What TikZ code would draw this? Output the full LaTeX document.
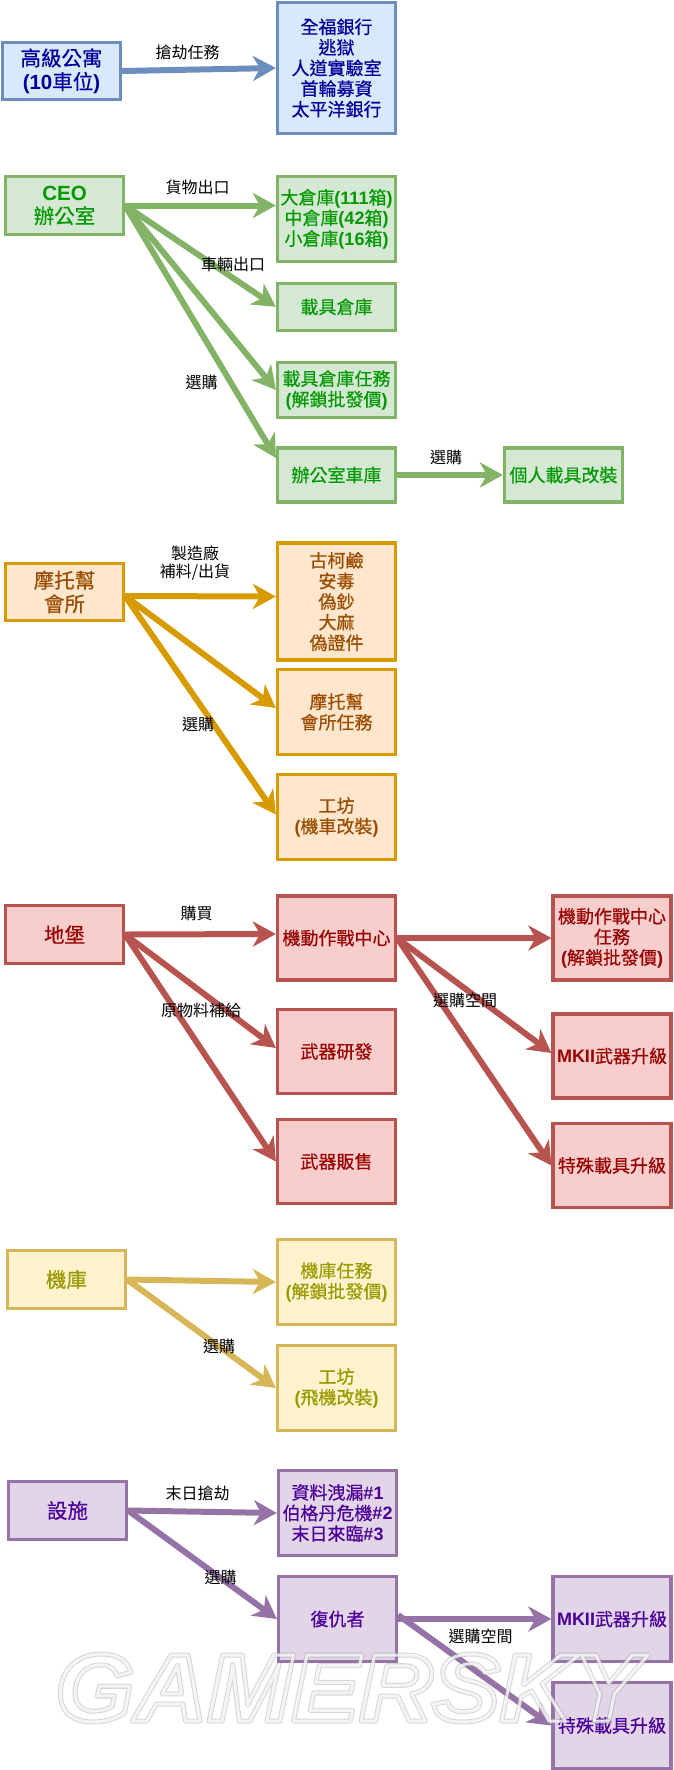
\documentclass[tikz,border=0pt]{standalone}
\usepackage{fontspec}
\setmainfont{Noto Sans CJK TC}
\newfontfamily\boxfont[FakeBold=0.5]{Noto Sans CJK TC}
\newfontfamily\latinfont{Liberation Sans}
\newfontfamily\markfont[FakeStretch=1.055]{Liberation Sans}
\newcommand{\lat}[1]{{\latinfont\bfseries #1}}
\newcommand{\markstroke}[3]{\special{pdf:code q 1 Tr #1 w 1 j #2 RG}\pgfsetstrokeopacity{#3}GAMERSKY\special{pdf:code Q}}
\usetikzlibrary{arrows.meta}
\definecolor{bluefill}{HTML}{DAE8FC}
\definecolor{blueline}{HTML}{6C8EBF}
\definecolor{bluetext}{HTML}{000099}
\definecolor{greenfill}{HTML}{D5E8D4}
\definecolor{greenline}{HTML}{82B366}
\definecolor{greentext}{HTML}{009900}
\definecolor{orangefill}{HTML}{FFE6CC}
\definecolor{orangeline}{HTML}{D79B00}
\definecolor{orangetext}{HTML}{994C00}
\definecolor{redfill}{HTML}{F8CECC}
\definecolor{redline}{HTML}{B85450}
\definecolor{redtext}{HTML}{990000}
\definecolor{yellowfill}{HTML}{FFF2CC}
\definecolor{yellowline}{HTML}{D6B656}
\definecolor{yellowtext}{HTML}{999900}
\definecolor{purplefill}{HTML}{E1D5E7}
\definecolor{purpleline}{HTML}{9673A6}
\definecolor{purpletext}{HTML}{4C0099}
\begin{document}
\begin{tikzpicture}[
      x=1pt, y=-1pt,
      box/.style={draw, line width=3.2pt, inner sep=0pt, align=center,
                  minimum width=118pt, font=\fontsize{18}{20.6}\selectfont\boxfont},
      rootbox/.style={box, font=\fontsize{20.5}{23.5}\selectfont\boxfont},
      bluebox/.style={draw=blueline, fill=bluefill, text=bluetext},
      greenbox/.style={draw=greenline, fill=greenfill, text=greentext},
      orangebox/.style={draw=orangeline, fill=orangefill, text=orangetext},
      redbox/.style={draw=redline, fill=redfill, text=redtext},
      yellowbox/.style={draw=yellowline, fill=yellowfill, text=yellowtext},
      purplebox/.style={draw=purpleline, fill=purplefill, text=purpletext},
      flow/.style={line width=6pt, -{Stealth[length=23pt,width=25pt,inset=7pt]}},
      tag/.style={font=\fontsize{16}{18.5}\selectfont, text=black, inner sep=0pt, align=center}
    ]
    \useasboundingbox (0,0) rectangle (673,1770);

    % Apartment
    \node[rootbox, bluebox, minimum height=57.5pt] (apartment) at (61.5,71) {高級公寓\\\lat{(10}車位\lat{)}};
    \node[box, bluebox, minimum height=131pt] (heists) at (336.5,68) {全福銀行\\逃獄\\人道實驗室\\首輪募資\\太平洋銀行};
    \draw[flow, draw=blueline] (apartment.east) -- (heists.west);
    \node[tag] (heistlabel) at (187.5,52) {搶劫任務};

    % CEO office
    \node[rootbox, greenbox, minimum height=57.5pt] (office) at (64.5,205.5) {\lat{CEO}\\辦公室};
    \node[box, greenbox, minimum height=85pt] (crates) at (336.5,219) {大倉庫\lat{(111}箱\lat{)}\\中倉庫\lat{(42}箱\lat{)}\\小倉庫\lat{(16}箱\lat{)}};
    \node[box, greenbox, minimum height=47pt] (vehicles) at (336.5,306.8) {載具倉庫};
    \node[box, greenbox, minimum height=55pt] (vehiclejobs) at (336.5,390) {載具倉庫任務\\\lat{(}解鎖批發價\lat{)}};
    \node[box, greenbox, minimum height=54pt] (garage) at (336.5,475) {辦公室車庫};
    \node[box, greenbox, minimum height=54pt] (custom) at (563.5,475) {個人載具改裝};
    \draw[flow, draw=greenline] (office.east) -- ([yshift=13.5pt]crates.west);
    \draw[flow, draw=greenline] (office.east) -- (vehicles.west);
    \draw[flow, draw=greenline] (office.east) -- (vehiclejobs.west);
    \draw[flow, draw=greenline] (office.east) -- ([yshift=17pt]garage.west);
    \draw[flow, draw=greenline] (garage.east) -- (custom.west);
    \node[tag] (cargolabel) at (197.5,187.5) {貨物出口};
    \node[tag] (vehiclelabel) at (233,264) {車輛出口};
    \node[tag] (buylabel) at (201.5,382.5) {選購};
    \node[tag] (garagelabel) at (446,457.5) {選購};

    % MC clubhouse
    \node[rootbox, orangebox, minimum height=57.5pt] (club) at (64.5,592) {摩托幫\\會所};
    \node[box, orangebox, minimum height=117pt] (drugs) at (336.5,601.5) {古柯鹼\\安毒\\偽鈔\\大麻\\偽證件};
    \node[box, orangebox, minimum height=85pt] (clubjobs) at (336.5,712) {摩托幫\\會所任務};
    \node[box, orangebox, minimum height=85pt] (bikeshop) at (336.5,817) {工坊\\\lat{(}機車改裝\lat{)}};
    \draw[flow, draw=orangeline] ([yshift=-4pt]club.east) -- ([yshift=5pt]drugs.west);
    \draw[flow, draw=orangeline] ([yshift=-4pt]club.east) -- ([yshift=4pt]clubjobs.west);
    \draw[flow, draw=orangeline] ([yshift=-4pt]club.east) -- ([yshift=2.5pt]bikeshop.west);
    \node[tag] (supplylabel) at (195,563) {製造廠\\補料/出貨};
    \node[tag] (clublabel) at (198,724.5) {選購};

    % Bunker
    \node[rootbox, redbox, minimum height=57.5pt] (bunker) at (64.5,934.5) {地堡};
    \node[box, redbox, minimum height=84pt] (center) at (336.5,938) {機動作戰中心};
    \node[box, redbox, minimum height=84pt] (research) at (336.5,1051.5) {武器研發};
    \node[box, redbox, minimum height=84pt] (sales) at (336.5,1161.5) {武器販售};
    \node[box, redbox, minimum height=84pt] (centerjobs) at (612,938) {機動作戰中心\\任務\\\lat{(}解鎖批發價\lat{)}};
    \node[box, redbox, minimum height=84pt] (weapons) at (612,1056) {\lat{MKII}武器升級};
    \node[box, redbox, minimum height=84pt] (special) at (612,1165.5) {特殊載具升級};
    \draw[flow, draw=redline] (bunker.east) -- ([yshift=4pt]center.west);
    \draw[flow, draw=redline] (bunker.east) -- ([yshift=3.5pt]research.west);
    \draw[flow, draw=redline] (bunker.east) -- (sales.west);
    \draw[flow, draw=redline] (center.east) -- (centerjobs.west);
    \draw[flow, draw=redline] (center.east) -- ([yshift=3pt]weapons.west);
    \draw[flow, draw=redline] (center.east) -- (special.west);
    \node[tag] (purchaselabel) at (196.5,913) {購買};
    \node[tag] (materiallabel) at (201,1010) {原物料補給};
    \node[tag] (spacelabel) at (465,1000) {選購空間};

    % Hangar
    \node[rootbox, yellowbox, minimum height=57.5pt] (hangar) at (66.5,1279.5) {機庫};
    \node[box, yellowbox, minimum height=84.5pt] (hangarjobs) at (336.5,1282) {機庫任務\\\lat{(}解鎖批發價\lat{)}};
    \node[box, yellowbox, minimum height=84.5pt] (planeshop) at (336.5,1388) {工坊\\\lat{(}飛機改裝\lat{)}};
    \draw[flow, draw=yellowline] (hangar.east) -- (hangarjobs.west);
    \draw[flow, draw=yellowline] (hangar.east) -- (planeshop.west);
    \node[tag] (hangarlabel) at (219,1346) {選購};

    % Facility
    \node[rootbox, purplebox, minimum height=57.5pt] (facility) at (67.5,1510.5) {設施};
    \node[box, purplebox, minimum height=84.5pt] (doomsday) at (337.5,1513) {資料洩漏\lat{\#1}\\伯格丹危機\lat{\#2}\\末日來臨\lat{\#3}};
    \node[box, purplebox, minimum height=85pt] (avenger) at (337.5,1619) {復仇者};
    \node[box, purplebox, minimum height=85pt] (weaponstwo) at (612,1619) {\lat{MKII}武器升級};
    \node[box, purplebox, minimum height=86pt] (specialtwo) at (612,1725.5) {特殊載具升級};
    \draw[flow, draw=purpleline] (facility.east) -- (doomsday.west);
    \draw[flow, draw=purpleline] (facility.east) -- (avenger.west);
    \draw[flow, draw=purpleline] (avenger.east) -- (weaponstwo.west);
    \draw[flow, draw=purpleline] ([yshift=4pt]avenger.east) -- (specialtwo.west);
    \node[tag] (raidlabel) at (197.5,1493) {末日搶劫};
    \node[tag] (facilitylabel) at (220.5,1577.5) {選購};
    \node[tag] (spacetwolabel) at (480.5,1636.5) {選購空間};

    % Watermark
    \node[inner sep=0pt] (watermark) at (348,1688) {\fontsize{96}{96}\markfont\bfseries\itshape
      \rlap{\markstroke{5}{0.6 0.6 0.6}{0.4}}\markstroke{3}{1 1 1}{0.75}};
  \end{tikzpicture}
\end{document}
